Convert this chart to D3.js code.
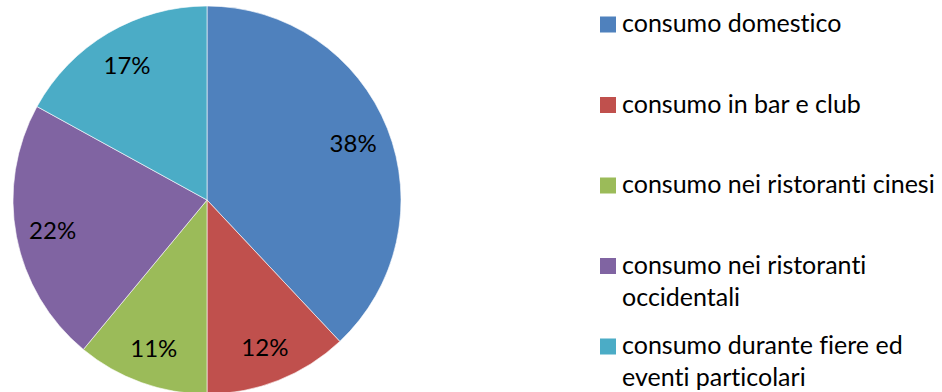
<!DOCTYPE html>
<html>
<head>
<meta charset="utf-8">
<script src="https://cdn.jsdelivr.net/npm/d3@7"></script>
<style>
  html, body { margin: 0; padding: 0; background: #fff; }
  svg { display: block; }
  text { font-family: Lato, "Open Sans", sans-serif; fill: #000; font-variant-ligatures: none; }
</style>
</head>
<body>
<svg id="chart" width="942" height="392"></svg>
<script>
// Consumption channels and their share (%)
const categories = [
  "consumo domestico",
  "consumo in bar e club",
  "consumo nei ristoranti cinesi",
  "consumo nei ristoranti occidentali",
  "consumo durante fiere ed eventi particolari"
];
const values = [38, 12, 11, 22, 17];
const colors = ["#4F81BD", "#C0504D", "#9BBB59", "#8064A2", "#4BACC6"];
// Legend text split into display lines
const legendLines = [
  ["consumo domestico"],
  ["consumo in bar e club"],
  ["consumo nei ristoranti cinesi"],
  ["consumo nei ristoranti", "occidentali"],
  ["consumo durante fiere ed", "eventi particolari"]
];

const svg = d3.select("#chart");
const cx = 207, cy = 200, radius = 194;

const data = categories.map((c, i) => ({ name: c, value: values[i], color: colors[i] }));

const pie = d3.pie().value(d => d.value).sort(null);
const arcs = pie(data);
const arc = d3.arc().innerRadius(0).outerRadius(radius);
const labelArc = d3.arc().innerRadius(radius * 0.81).outerRadius(radius * 0.81);

const g = svg.append("g").attr("transform", `translate(${cx},${cy})`);

g.selectAll("path.slice")
  .data(arcs)
  .join("path")
  .attr("class", "slice")
  .attr("d", arc)
  .attr("fill", d => d.data.color)
  .attr("stroke", "#ffffff")
  .attr("stroke-width", 0.6);

g.selectAll("text.pct")
  .data(arcs)
  .join("text")
  .attr("class", "pct")
  .attr("transform", d => `translate(${labelArc.centroid(d)})`)
  .attr("text-anchor", "middle")
  .attr("dominant-baseline", "central")
  .style("font-size", "24px")
  .text(d => d.data.value + "%");

// Legend
const legend = svg.append("g").attr("transform", "translate(600,16.5)");
const rowStep = 80.5, sw = 16, lineH = 32;
const items = legend.selectAll("g.item")
  .data(data)
  .join("g")
  .attr("class", "item")
  .attr("transform", (d, i) => `translate(0,${i * rowStep})`);

items.append("rect")
  .attr("width", sw)
  .attr("height", sw)
  .attr("fill", d => d.color);

items.each(function(d, i) {
  const t = d3.select(this).append("text")
    .attr("x", 22)
    .attr("y", 15.5)
    .style("font-size", "25px");
  legendLines[i].forEach((line, j) => {
    t.append("tspan").attr("x", 22).attr("dy", j === 0 ? 0 : lineH).text(line);
  });
});
</script>
</body>
</html>
